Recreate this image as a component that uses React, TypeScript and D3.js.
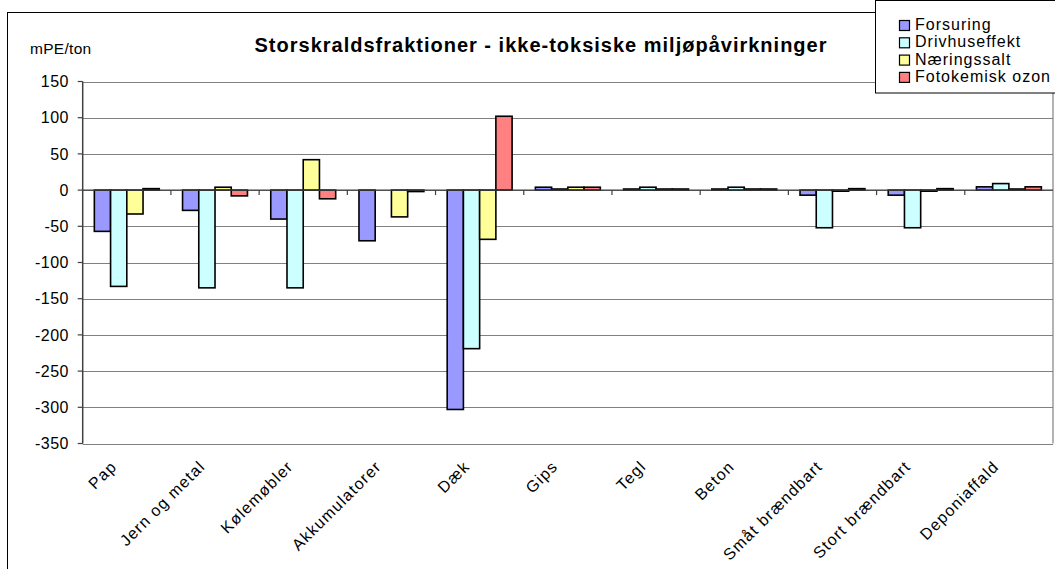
import { useEffect, useRef } from 'react';
import * as d3 from 'd3';

// Categories and series
const categories = [
  'Pap',
  'Jern og metal',
  'Kølemøbler',
  'Akkumulatorer',
  'Dæk',
  'Gips',
  'Tegl',
  'Beton',
  'Småt brændbart',
  'Stort brændbart',
  'Deponiaffald',
];
const seriesNames = ['Forsuring', 'Drivhuseffekt', 'Næringssalt', 'Fotokemisk ozon'];
const forsuring = [-57, -28, -40, -70, -303, 4, 1.5, 1.5, -7, -7, 4.5];
const drivhuseffekt = [-133, -135, -135, 0, -219, 1.5, 4, 4, -52, -52, 9];
const naeringssalt = [-33, 4, 42, -37, -68, 4, 1.5, 1.5, -1.5, -1.5, 1.5];
const fotokemiskOzon = [2, -8, -12, -2, 102, 4, 1.5, 1.5, 2, 2, 4.5];
const yTicks = [150, 100, 50, 0, -50, -100, -150, -200, -250, -300, -350];
const colors = ['#9999FF', '#CCFFFF', '#FFFF99', '#FF8080'];

const FONT = 'Arial, "Liberation Sans", sans-serif';

const App = () => {
  const svgRef = useRef<SVGSVGElement>(null);

  useEffect(() => {
    const svg = d3.select(svgRef.current);
    svg.selectAll('*').remove();

    const width = 1055;
    const height = 569;
    const plot = { left: 82.7, right: 1053, top: 81.5, bottom: 443.5 };

    const seriesValues = [forsuring, drivhuseffekt, naeringssalt, fotokemiskOzon];

    svg.append('rect').attr('width', width).attr('height', height).attr('fill', '#fff');

    // Chart border (runs off the page to the right and bottom)
    svg
      .append('rect')
      .attr('x', 7.5)
      .attr('y', 12.5)
      .attr('width', 1200)
      .attr('height', 700)
      .attr('fill', 'none')
      .attr('stroke', '#000')
      .attr('stroke-width', 1);

    const x0 = d3.scaleBand().domain(categories).range([plot.left, plot.right]).padding(0);
    const bw = x0.bandwidth();
    const x1 = d3
      .scaleBand()
      .domain(seriesNames)
      .range([bw * 0.132, bw * 0.868])
      .padding(0);
    const y = d3
      .scaleLinear()
      .domain([-350, 150])
      .range([plot.bottom, plot.top]);

    // Gridlines
    svg
      .append('g')
      .selectAll('line')
      .data(yTicks)
      .join('line')
      .attr('x1', plot.left)
      .attr('x2', plot.right)
      .attr('y1', (d) => Math.round(y(d)) + 0.5)
      .attr('y2', (d) => Math.round(y(d)) + 0.5)
      .attr('stroke', '#808080')
      .attr('stroke-width', 1.2);

    // Right border of plot area
    svg
      .append('line')
      .attr('x1', plot.right)
      .attr('x2', plot.right)
      .attr('y1', plot.top)
      .attr('y2', plot.bottom)
      .attr('stroke', '#808080')
      .attr('stroke-width', 1.2);

    // Bars
    seriesNames.forEach((name, si) => {
      svg
        .append('g')
        .selectAll('rect')
        .data(categories.map((c, i) => ({ c, v: seriesValues[si][i] })).filter((d) => d.v !== 0))
        .join('rect')
        .attr('x', (d) => (x0(d.c) as number) + (x1(name) as number))
        .attr('width', x1.bandwidth())
        .attr('y', (d) => y(Math.max(0, d.v)))
        .attr('height', (d) => Math.abs(y(d.v) - y(0)))
        .attr('fill', colors[si])
        .attr('stroke', '#000')
        .attr('stroke-width', 1.6);
    });

    // Value axis
    const yAxis = svg.append('g');
    yAxis
      .append('line')
      .attr('x1', plot.left)
      .attr('x2', plot.left)
      .attr('y1', plot.top)
      .attr('y2', plot.bottom)
      .attr('stroke', '#404040')
      .attr('stroke-width', 1.5);
    yAxis
      .selectAll('line.tick')
      .data(yTicks)
      .join('line')
      .attr('class', 'tick')
      .attr('x1', plot.left - 5)
      .attr('x2', plot.left)
      .attr('y1', (d) => y(d))
      .attr('y2', (d) => y(d))
      .attr('stroke', '#404040')
      .attr('stroke-width', 1.2);
    yAxis
      .selectAll('text')
      .data(yTicks)
      .join('text')
      .attr('x', 69)
      .attr('y', (d) => y(d))
      .attr('dy', '0.36em')
      .attr('text-anchor', 'end')
      .attr('font-family', FONT)
      .attr('font-size', 16)
      .attr('letter-spacing', 0.5)
      .attr('fill', '#000')
      .text((d) => d);

    // Category axis at zero
    const xAxis = svg.append('g');
    xAxis
      .append('line')
      .attr('x1', plot.left)
      .attr('x2', plot.right)
      .attr('y1', y(0))
      .attr('y2', y(0))
      .attr('stroke', '#404040')
      .attr('stroke-width', 1.2);
    xAxis
      .selectAll('line.tick')
      .data(d3.range(1, categories.length))
      .join('line')
      .attr('class', 'tick')
      .attr('x1', (i) => plot.left + i * bw)
      .attr('x2', (i) => plot.left + i * bw)
      .attr('y1', y(0))
      .attr('y2', y(0) + 5)
      .attr('stroke', '#404040')
      .attr('stroke-width', 1.2);

    svg
      .append('g')
      .selectAll('text')
      .data(categories)
      .join('text')
      .attr(
        'transform',
        (d) => `translate(${(x0(d) as number) + bw / 2 - 9},${plot.bottom + 24}) rotate(-45)`
      )
      .attr('text-anchor', 'end')
      .attr('font-family', FONT)
      .attr('font-size', 16)
      .attr('letter-spacing', 1.2)
      .attr('fill', '#000')
      .text((d) => d);

    // Unit label
    svg
      .append('text')
      .attr('x', 30)
      .attr('y', 54)
      .attr('font-family', FONT)
      .attr('font-size', 15.5)
      .attr('letter-spacing', 0.3)
      .attr('fill', '#000')
      .text('mPE/ton');

    // Title
    svg
      .append('text')
      .attr('x', 541)
      .attr('y', 52)
      .attr('text-anchor', 'middle')
      .attr('font-family', FONT)
      .attr('font-size', 20)
      .attr('font-weight', 'bold')
      .attr('letter-spacing', 1)
      .attr('fill', '#000')
      .text('Storskraldsfraktioner - ikke-toksiske miljøpåvirkninger');

    // Legend
    const legend = svg.append('g');
    legend
      .append('rect')
      .attr('x', 875.5)
      .attr('y', 0.5)
      .attr('width', 300)
      .attr('height', 92.5)
      .attr('fill', '#fff')
      .attr('stroke', '#000')
      .attr('stroke-width', 1);

    seriesNames.forEach((name, i) => {
      const row = legend.append('g').attr('transform', `translate(0, ${30 + i * 17.3})`);
      row
        .append('rect')
        .attr('x', 899.5)
        .attr('y', -9.5)
        .attr('width', 10)
        .attr('height', 10)
        .attr('fill', colors[i])
        .attr('stroke', '#000')
        .attr('stroke-width', 1.2);
      row
        .append('text')
        .attr('x', 915)
        .attr('y', 0)
        .attr('font-family', FONT)
        .attr('font-size', 16)
        .attr('letter-spacing', 1)
        .attr('fill', '#000')
        .text(name);
    });
  }, []);

  return (
    <svg
      ref={svgRef}
      width={1055}
      height={569}
      style={{ position: 'absolute', left: 0, top: 0, display: 'block' }}
    ></svg>
  );
};

export default App;
